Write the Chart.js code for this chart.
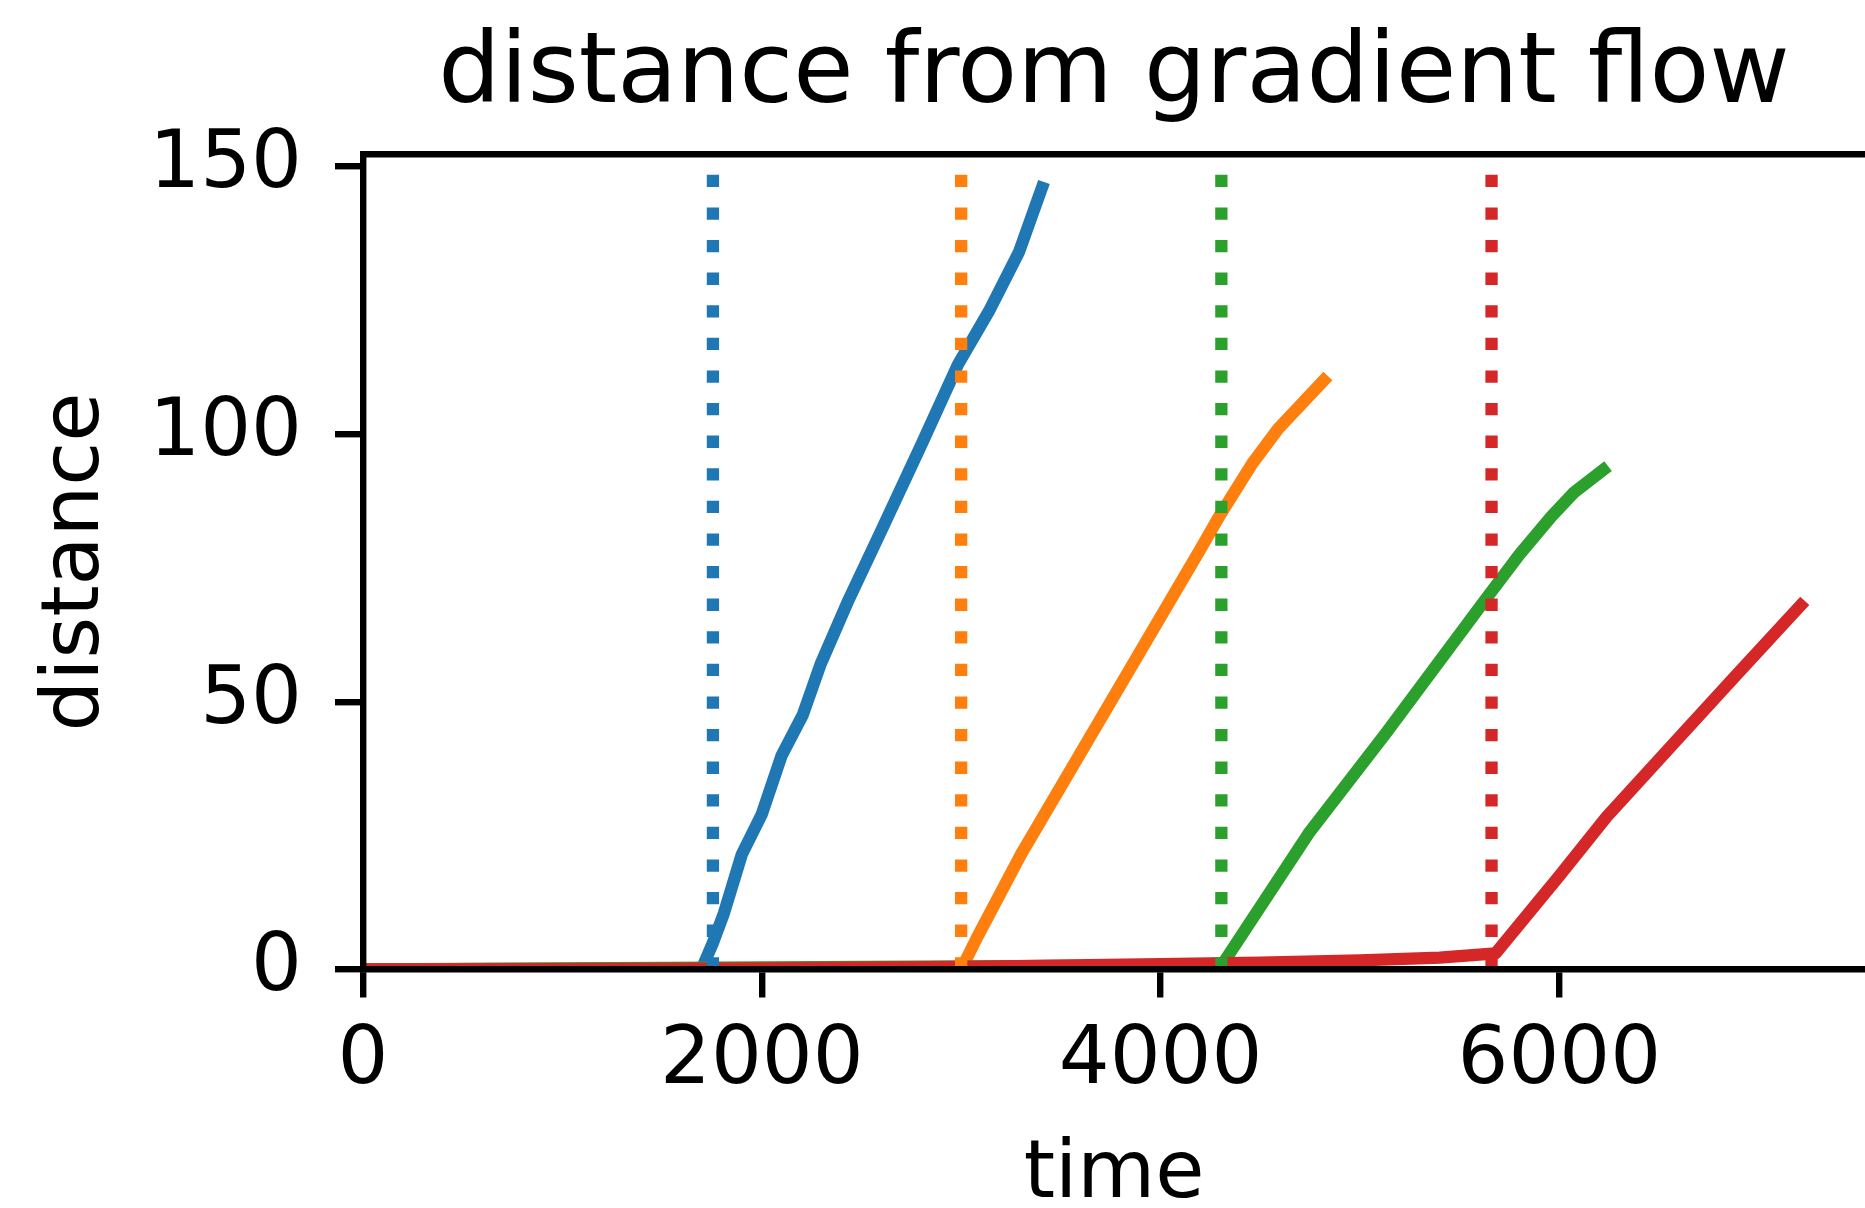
<!DOCTYPE html>
<html>
<head>
<meta charset="utf-8">
<script src="https://cdn.jsdelivr.net/npm/chart.js@4.4.0/dist/chart.umd.min.js"></script>
<style>
  body { margin: 0; background: #fff; }
  #wrap { width: 1865px; height: 1208px; position: relative; }
</style>
</head>
<body>
<div id="wrap"><canvas id="myChart"></canvas></div>
<script>
// values
const blueTime = [0, 1700, 1755, 1810, 1900, 2000, 2100, 2205, 2295, 2435, 2600, 2800, 2984, 3140, 3290, 3405];
const blueDist = [0, 0.2, 5, 10.5, 21.5, 29, 40, 47.5, 57, 69, 82, 98, 113, 123, 134, 146];

const orangeTime = [0, 3000, 3080, 3300, 3600, 3900, 4200, 4300, 4460, 4590, 4818];
const orangeDist = [0, 0, 6, 21.5, 40.5, 59.5, 78.5, 85, 94.5, 101, 110];

const greenTime = [0, 4300, 4320, 4742, 5129, 5627, 5800, 5960, 6071, 6220];
const greenDist = [0, 0.8, 1.5, 25.4, 44.1, 69, 77.5, 84.6, 89, 93.3];

const redTime = [0, 1000, 2000, 3000, 4000, 4500, 5000, 5400, 5680, 6000, 6237, 6600, 6900, 7210];
const redDist = [0, 0.05, 0.2, 0.5, 1.0, 1.3, 1.7, 2.2, 3.0, 17.5, 28.5, 43.3, 55.5, 68];

const switchTimes = [1755, 3000, 4305, 5660];
const lineColors = ['#1f77b4', '#ff7f0e', '#2ca02c', '#d62728'];

const xTicks = [0, 2000, 4000, 6000];
const xTickLabels = ['0', '2000', '4000', '6000'];
const yTicks = [0, 50, 100, 150];
const yTickLabels = ['0', '50', '100', '150'];
const xMax = 7533;
const yMax = 152.2;

function pts(xs, ys) {
  return xs.map((x, i) => ({x: x, y: ys[i]}));
}

const series = [[blueTime, blueDist], [orangeTime, orangeDist], [greenTime, greenDist], [redTime, redDist]];

const lineSets = series.map((s, i) => ({
  data: pts(s[0], s[1]),
  borderColor: lineColors[i],
  borderWidth: 12.3,
  borderCapStyle: 'square',
  borderJoinStyle: 'round',
  pointRadius: 0,
  tension: 0,
  order: 8 - i
}));

const vlineSets = switchTimes.map((t, i) => ({
  data: [{x: t, y: 0}, {x: t, y: yMax}],
  borderColor: lineColors[i],
  borderWidth: 12.3,
  borderDash: [12.3, 20.3],
  borderCapStyle: 'butt',
  pointRadius: 0,
  order: 4 - i
}));

Chart.defaults.color = '#000';
Chart.defaults.font.family = 'DejaVu Sans';

const ctx = document.getElementById('myChart').getContext('2d');
const myChart = new Chart(ctx, {
  type: 'line',
  data: { datasets: lineSets.concat(vlineSets) },
  options: {
    responsive: true,
    maintainAspectRatio: false,
    animation: false,
    layout: { padding: 0 },
    plugins: {
      legend: { display: false },
      tooltip: { enabled: false },
      title: { display: false }
    },
    scales: {
      x: {
        type: 'linear',
        position: 'bottom',
        min: 0,
        max: xMax,
        afterFit: s => { s.height = 238.5; },
        afterBuildTicks: s => { s.ticks = xTicks.map(v => ({value: v})); },
        ticks: {
          color: '#000', font: { size: 80 }, padding: 17, maxRotation: 0, autoSkip: false,
          callback: (v) => xTickLabels[xTicks.indexOf(v)]
        },
        grid: { drawOnChartArea: false, tickLength: 28, lineWidth: 6.4, color: '#000' },
        border: { color: '#000', width: 6.4, z: 1 },
        title: { display: true, text: 'time', color: '#000', font: { size: 80, lineHeight: 0.8 }, padding: { top: 0, bottom: 0 } }
      },
      top: {
        type: 'linear',
        axis: 'x',
        position: 'top',
        min: 0,
        max: xMax,
        afterFit: s => { s.height = 154.6; },
        ticks: { display: false },
        grid: { drawOnChartArea: false, drawTicks: false },
        border: { color: '#000', width: 6.4, z: 1 },
        title: { display: true, text: 'distance from gradient flow', color: '#000', font: { size: 98 }, padding: { top: 18, bottom: 0 } }
      },
      y: {
        type: 'linear',
        position: 'left',
        min: 0,
        max: yMax,
        afterFit: s => { s.width = 363; },
        afterBuildTicks: s => { s.ticks = yTicks.map(v => ({value: v})); },
        ticks: {
          color: '#000', font: { size: 80 }, padding: 33, autoSkip: false,
          callback: (v) => yTickLabels[yTicks.indexOf(v)]
        },
        grid: { drawOnChartArea: false, tickLength: 28, lineWidth: 6.4, color: '#000' },
        border: { color: '#000', width: 6.4, z: 1 },
        title: { display: true, text: 'distance', color: '#000', font: { size: 80 }, padding: { top: 29, bottom: 0 } }
      }
    }
  }
});
</script>
</body>
</html>
